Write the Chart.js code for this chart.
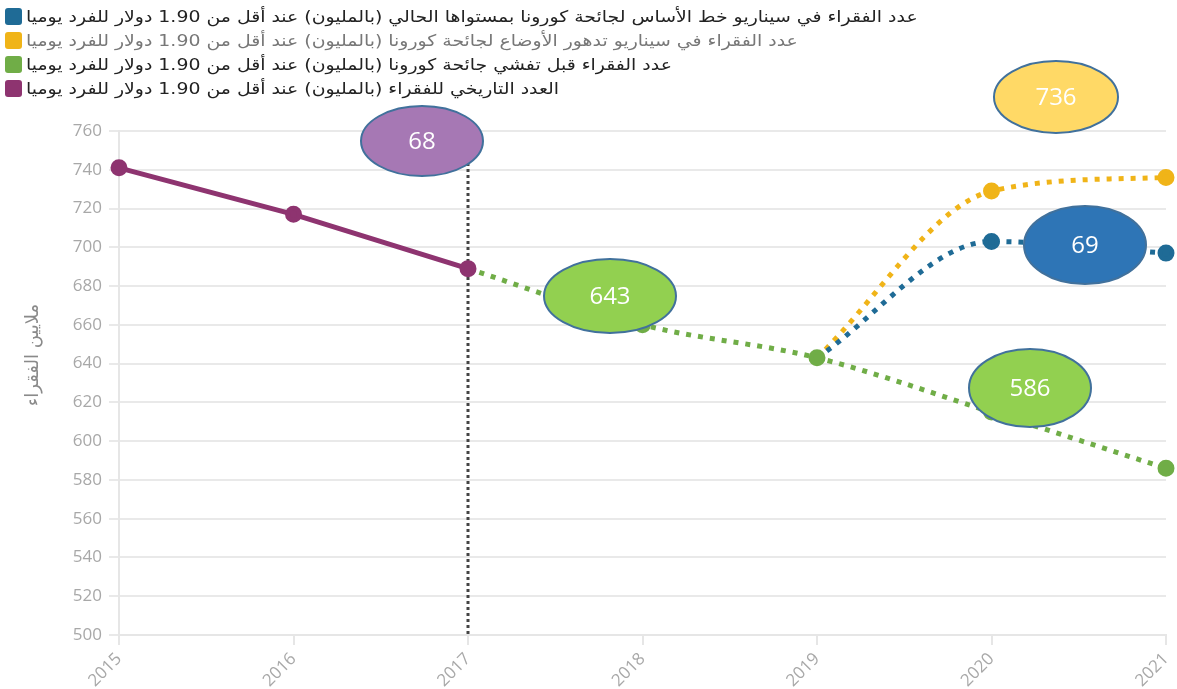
<!DOCTYPE html>
<html lang="ar">
<head>
<meta charset="utf-8">
<script src="https://cdn.jsdelivr.net/npm/chart.js@4.4.1/dist/chart.umd.min.js"></script>
<style>
  html, body { margin: 0; padding: 0; background: #fff; }
  #wrap { position: relative; width: 1177px; height: 689px; overflow: hidden; }
  #c { position: absolute; left: 0; top: 0; }
  #legend { position: absolute; left: 5px; top: 4px; font-family: "DejaVu Sans", sans-serif; font-size: 16px; }
  .row { display: flex; align-items: center; height: 24px; }
  .box { width: 17px; height: 17px; border-radius: 3px; margin-right: 4px; flex: none; }
  .txt { white-space: nowrap; display: inline-block; transform-origin: left center; transform: scaleX(1.18); }
</style>
</head>
<body>
<div id="wrap">
  <canvas id="c" width="1177" height="689"></canvas>
  <div id="legend"></div>
</div>
<script>
const years = ['2015', '2016', '2017', '2018', '2019', '2020', '2021'];
const historical = [741, 717, 689, null, null, null, null];
const preCovid = [null, null, 689, 660, 643, 615, 586];
const baseline = [null, null, null, null, 643, 703, 697];
const downside = [null, null, null, null, 643, 729, 736];

const seriesNames = [
  'عدد الفقراء في سيناريو خط الأساس لجائحة كورونا بمستواها الحالي (بالمليون) عند أقل من 1.90 دولار للفرد يوميا',
  'عدد الفقراء في سيناريو تدهور الأوضاع لجائحة كورونا (بالمليون) عند أقل من 1.90 دولار للفرد يوميا',
  'عدد الفقراء قبل تفشي جائحة كورونا (بالمليون) عند أقل من 1.90 دولار للفرد يوميا',
  'العدد التاريخي للفقراء (بالمليون) عند أقل من 1.90 دولار للفرد يوميا'
];
const seriesColors = ['#1f6b96', '#f0b418', '#70ad47', '#8e3470'];
const legendTextColors = ['#222', '#777', '#222', '#222'];

const yTitle = 'ملايين الفقراء';
const yTicks = [500, 520, 540, 560, 580, 600, 620, 640, 660, 680, 700, 720, 740, 760];

// callout bubbles (text, centre x, centre y, radii, fill)
const calloutTexts = ['68', '643', '736', '69', '586'];
const calloutStyle = [
  { x: 422, y: 141, rx: 61, ry: 35, fill: '#a678b4' },
  { x: 610, y: 296, rx: 66, ry: 37, fill: '#92d050' },
  { x: 1056, y: 97, rx: 62, ry: 36, fill: '#ffd966' },
  { x: 1085, y: 245, rx: 61, ry: 39, fill: '#2e75b6' },
  { x: 1030, y: 388, rx: 61, ry: 39, fill: '#92d050' }
];

// HTML legend
const lg = document.getElementById('legend');
seriesNames.forEach((n, i) => {
  const r = document.createElement('div'); r.className = 'row';
  const b = document.createElement('div'); b.className = 'box'; b.style.background = seriesColors[i];
  const t = document.createElement('span'); t.className = 'txt'; t.dir = 'rtl'; t.textContent = n; t.style.color = legendTextColors[i];
  r.appendChild(b); r.appendChild(t); lg.appendChild(r);
});

const overlay = {
  id: 'overlay',
  beforeDatasetsDraw(chart) {
    const ctx = chart.ctx, xs = chart.scales.x, a = chart.chartArea;
    const x = xs.getPixelForValue(2);
    ctx.save();
    ctx.strokeStyle = '#444';
    ctx.lineWidth = 3;
    ctx.setLineDash([3, 3]);
    ctx.beginPath(); ctx.moveTo(x, a.top + 20); ctx.lineTo(x, a.bottom); ctx.stroke();
    ctx.restore();
    // y-axis title
    ctx.save();
    ctx.translate(33, 355);
    ctx.rotate(-Math.PI / 2);
    ctx.fillStyle = '#8a8a8a';
    ctx.font = '18px "DejaVu Sans", sans-serif';
    ctx.textAlign = 'center'; ctx.textBaseline = 'middle';
    ctx.fillText(yTitle, 0, 0);
    ctx.restore();
  },
  afterDatasetsDraw(chart) {
    const ctx = chart.ctx;
    ctx.save();
    calloutTexts.forEach((t, i) => {
      const s = calloutStyle[i];
      ctx.beginPath();
      ctx.ellipse(s.x, s.y, s.rx, s.ry, 0, 0, Math.PI * 2);
      ctx.fillStyle = s.fill; ctx.fill();
      ctx.lineWidth = 2; ctx.strokeStyle = '#41719c'; ctx.stroke();
      ctx.fillStyle = '#fff';
      ctx.font = '24px "Open Sans", "Liberation Sans", sans-serif';
      ctx.textAlign = 'center'; ctx.textBaseline = 'middle';
      ctx.fillText(t, s.x, s.y + 1);
    });
    ctx.restore();
  }
};

const dotted = [5, 7];
new Chart(document.getElementById('c'), {
  type: 'line',
  data: {
    labels: years,
    datasets: [
      { label: seriesNames[3], data: historical, borderColor: seriesColors[3], backgroundColor: seriesColors[3],
        borderWidth: 5, pointRadius: 6, pointHoverRadius: 6, tension: 0, order: 0 },
      { label: seriesNames[2], data: preCovid, borderColor: seriesColors[2], backgroundColor: seriesColors[2],
        borderWidth: 5, borderDash: dotted, pointRadius: [0, 0, 0, 6, 6, 6, 6], cubicInterpolationMode: 'monotone', order: 1 },
      { label: seriesNames[0], data: baseline, borderColor: seriesColors[0], backgroundColor: seriesColors[0],
        borderWidth: 5, borderDash: dotted, pointRadius: [0, 0, 0, 0, 0, 6, 6], cubicInterpolationMode: 'monotone', order: 2 },
      { label: seriesNames[1], data: downside, borderColor: seriesColors[1], backgroundColor: seriesColors[1],
        borderWidth: 5, borderDash: dotted, pointRadius: [0, 0, 0, 0, 0, 6, 6], cubicInterpolationMode: 'monotone', order: 3 }
    ]
  },
  options: {
    responsive: false,
    animation: false,
    events: [],
    layout: { padding: { top: 131, right: 11, left: 0, bottom: 0 } },
    plugins: { legend: { display: false }, tooltip: { enabled: false } },
    scales: {
      x: {
        offset: false,
        grid: { drawOnChartArea: false, drawTicks: true, tickLength: 10, color: '#e6e6e6', lineWidth: 2 },
        border: { display: true, color: '#e6e6e6', width: 2 },
        ticks: { minRotation: 45, maxRotation: 45, color: '#a8a8a8', font: { size: 17, family: '"Open Sans", sans-serif' }, padding: 4 },
        afterFit(s) { s.height = 54; s.paddingLeft = 0; s.paddingRight = 0; }
      },
      y: {
        min: 500, max: 760,
        afterBuildTicks(s) { s.ticks = yTicks.map(v => ({ value: v })); },
        grid: { color: '#e9e9e9', lineWidth: 2, tickLength: 10 },
        border: { display: true, color: '#e6e6e6', width: 2 },
        ticks: { color: '#a8a8a8', font: { size: 17, family: '"Open Sans", sans-serif' }, padding: 7 },
        afterFit(s) { s.width = 119; s.paddingTop = 0; s.paddingBottom = 0; }
      }
    }
  },
  plugins: [overlay]
});
</script>
</body>
</html>
